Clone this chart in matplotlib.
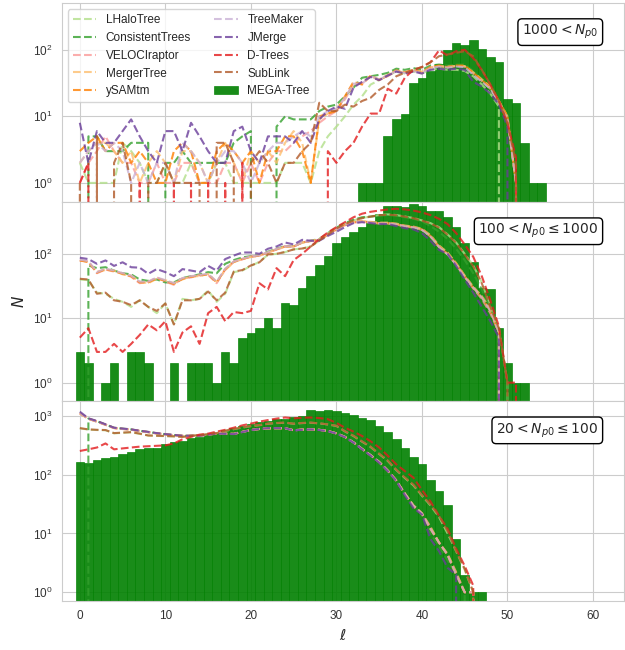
import numpy as np
import matplotlib
matplotlib.use("Agg")
import matplotlib.pyplot as plt
import seaborn as sns

sns.set_style("whitegrid")
plt.rcParams['font.family'] = ['Liberation Sans', 'DejaVu Sans']

names = ["LHaloTree", "ConsistentTrees", "VELOCIraptor", "MergerTree", "ySAMtm",
         "TreeMaker", "JMerge", "D-Trees", "SubLink"]
colours = ["#b2df8a", "#33a02c", "#fb9a99", "#fdbf6f", "#ff7f00",
           "#cab2d6", "#6a3d9a", "#e31a1c", "#b15928"]
panel_labels = [r"$1000 < N_{p0}$", r"$100 < N_{p0} \leq 1000$", r"$20 < N_{p0} \leq 100$"]

# ---- 1000 < Np0 ----
hi_mega = [0] * 33 + [1, 1, 1, 5, 9, 11, 32, 38, 48, 62, 98, 127, 116, 141, 103, 79, 65, 18, 16, 4, 1, 1]
hi_lhalo = [2, 1, 1, 1, 1, 4, 3, 2, 1, 1, 2, 1, 1, 2, 1, 1, 2, 2, 1, 1, 1, 1, 1, 1, 2, 2,
            2, 1, 3, 5, 7, 10, 15, 20, 30, 35, 41, 47, 44, 47, 44, 50, 52, 50, 50, 48, 40, 30, 22, 14, 0]
hi_ctrees = [0, 5, 5, 3, 3, 3, 4, 4, 4, 0, 2, 2, 3, 2, 2, 2, 2, 2, 4, 5, 6, 0,
             0, 7, 10, 9, 9, 9, 12, 14, 15, 20, 27, 38, 40,
             42, 45, 52, 50, 53, 50, 58, 60, 58, 60, 60, 48, 36, 28, 17, 10, 1, 0]
hi_velo = [1, 2, 3, 5, 3, 2, 2, 1, 1, 2, 1, 1, 2, 2, 1, 1, 1, 2, 2, 1, 2, 1,
           2, 3, 3, 4, 5, 6, 8, 10, 12, 18, 30, 31, 40,
           35, 40, 48, 45, 49, 45, 54, 57, 54, 57, 56, 44, 34, 26, 16, 9, 1, 0]
hi_merger = [2, 3, 4, 4, 3, 2, 3, 1, 2, 3, 2, 1, 3, 3, 2, 1, 2, 4, 2, 1, 3, 2,
             3, 2, 4, 6, 4, 1, 9, 11, 13, 19, 30, 32, 40,
             36, 42, 48, 46, 50, 47, 54, 57, 56, 57, 57, 46, 36, 28, 17, 10, 1, 0]
hi_ysam = [3, 4, 5, 3, 4, 4, 2, 3, 2, 1, 1, 3, 4, 3, 1, 1, 3, 4, 3, 2, 3, 1,
           3, 3, 5, 5, 3, 1, 10, 11, 12, 20, 33, 30, 41,
           35, 41, 49, 46, 49, 46, 55, 58, 55, 58, 58, 45, 35, 27, 17, 10, 1, 0]
hi_treemaker = [2, 3, 4, 3, 4, 3, 1, 2, 1, 2, 2, 1, 4, 3, 2, 1, 2, 3, 3, 2, 1, 2,
                3, 4, 4, 5, 6, 5, 10, 12, 13, 19, 31, 31, 40,
                36, 41, 48, 45, 48, 45, 53, 56, 54, 56, 55, 42, 33, 26, 16, 9, 1, 0]
hi_jmerge = [8, 2, 6, 4, 4, 6, 9, 5, 3, 2, 6, 6, 3, 8, 5, 3, 2, 2, 6, 7, 3, 2,
             5, 5, 5, 4, 6, 4, 9, 12, 14, 13, 27, 33, 39,
             35, 41, 47, 44, 47, 44, 50, 52, 50, 52, 50, 33, 28, 22, 15, 7, 0]
hi_dtrees = [1, 2, 0, 0, 0, 0, 0, 1, 0, 0, 0, 1, 0, 1, 0, 1, 0, 1, 0, 2, 0, 0,
             0, 0, 0, 0, 0, 0, 0, 3, 2, 3, 4, 7, 11,
             11, 26, 22, 38, 50, 55, 65, 98, 82, 95, 100, 75, 50, 30, 17, 8, 2.4, 0]
hi_sublink = [1, 0, 5, 0, 2, 4, 1, 0, 1, 1, 2, 1, 1, 1, 1, 0, 4, 4, 2, 0, 2, 3,
              2, 1, 2, 2, 3, 4, 16, 12, 12, 15, 14, 17, 19,
              25, 30, 40, 45, 50, 55, 65, 80, 85, 90, 95, 80, 50, 30, 17, 8, 2, 0]

# ---- 100 < Np0 <= 1000 ----
mid_mega = [3, 2, 0, 1, 2, 0, 3, 3, 2, 0, 0, 2, 0, 2, 2, 2, 1, 3, 2, 5,
            6, 7, 10, 7, 17, 16, 29, 46, 66, 94, 146, 180, 215, 258, 325, 416, 560, 560, 525, 595,
            560, 467, 467, 370, 258, 146, 74, 30, 28, 7, 2, 1, 1]
mid_lhalo = [40, 39, 25, 24, 20, 18, 15, 19, 15, 12, 17, 8, 20, 19, 20, 27, 18, 24, 52, 55,
             65, 75, 97, 100, 106, 118, 120, 130,
             160, 200, 250, 290, 330, 360, 380, 400, 410, 400, 380, 360, 330, 300, 260, 200,
             150, 100, 66, 36, 15, 7, 1, 0]
mid_ctrees = [0, 66, 60, 62, 55, 50, 48, 40, 38, 40, 36, 36, 42, 45, 48, 52, 50, 70, 80, 88,
              92, 96, 108, 120, 132, 132, 150, 160,
              170, 210, 255, 300, 340, 370, 380, 390, 400, 390, 370, 350, 320, 270, 220, 170,
              120, 80, 50, 28, 14, 6.5, 1, 0]
mid_velo = [78, 76, 50, 57, 53, 50, 44, 35, 37, 43, 37, 33, 42, 43, 47, 47, 35, 57, 76, 82,
            91, 93, 106, 116, 131, 129, 151, 157,
            163, 198, 238, 278, 305, 315, 305, 296, 296, 286, 266, 256, 236, 186, 128, 98,
            68, 44, 29, 20, 12, 6, 0]
mid_merger = [80, 74, 53, 56, 55, 48, 46, 37, 35, 41, 39, 35, 40, 45, 45, 49, 37, 56, 74, 84,
              89, 95, 104, 117, 128, 132, 148, 160,
              168, 205, 245, 285, 315, 325, 315, 305, 305, 295, 275, 265, 245, 195, 135, 105,
              72, 46, 31, 22, 14, 6, 0]
mid_ysam = [79, 75, 51, 58, 54, 49, 45, 36, 36, 42, 38, 34, 41, 44, 46, 48, 36, 58, 75, 83,
            90, 94, 105, 118, 130, 130, 150, 158,
            165, 200, 240, 280, 310, 320, 310, 300, 300, 290, 270, 260, 240, 190, 130, 100,
            70, 45, 30, 21, 13, 6, 0]
mid_treemaker = [81, 77, 52, 59, 55, 50, 46, 37, 37, 43, 39, 35, 42, 45, 47, 49, 37, 59, 76, 84,
                 91, 95, 106, 119, 131, 131, 151, 159,
                 166, 200, 240, 280, 308, 318, 308, 298, 298, 288, 268, 258, 236, 186, 128, 98,
                 68, 44, 30, 21, 13, 6, 0]
mid_jmerge = [87, 83, 70, 79, 65, 74, 62, 61, 49, 58, 52, 45, 58, 55, 52, 65, 55, 83, 94, 105,
              105, 100, 120, 130, 150, 140, 165, 160,
              160, 190, 220, 260, 300, 310, 300, 290, 290, 270, 250, 240, 210, 160, 115, 100,
              65, 40, 25, 15, 9, 5, 0]
mid_dtrees = [5, 7, 3, 3, 4, 3, 4, 5.5, 8, 6.5, 9, 3, 6, 7.5, 4, 12, 15, 9, 12.5, 12,
              13, 35, 28, 60, 45, 80, 100, 130,
              170, 215, 260, 310, 370, 420, 450, 470, 490, 500, 490, 470, 440, 400, 350, 290,
              210, 140, 90, 45, 19, 7.5, 1, 1, 0]
mid_sublink = [41, 40, 24, 25, 19, 18, 16, 19, 15, 13, 17, 8, 19, 19, 20, 26, 19, 25, 53, 56,
               66, 74, 98, 100, 107, 117, 121, 130,
               162, 198, 248, 288, 328, 358, 378, 398, 405, 398, 378, 358, 328, 298, 255, 198,
               148, 98, 64, 35, 15, 7, 1, 0]

# ---- 20 < Np0 <= 100 ----
lo_mega = [166, 156, 178, 194, 199, 223, 246, 274, 280, 290, 333, 364, 380, 415, 445, 486, 520,
           570, 620, 670, 730, 795, 830, 875, 890, 950, 1000, 1270, 1210, 1240, 1200, 1140, 1040,
           935, 845, 675, 540, 400, 290, 200, 150, 80, 52, 30, 8, 2, 1, 1]
lo_lhalo = [615, 585, 575, 570, 505, 515, 525, 495, 462, 457, 452, 447, 438, 458, 468, 488, 508,
            555, 595, 635, 670, 695, 735, 755, 765,
            735, 755, 765, 745, 715, 675, 545, 455, 365, 296, 225, 172, 120, 88, 66, 44, 30, 19,
            10, 5, 2.4, 1, 0]
lo_ctrees = [0, 900, 810, 715, 628, 606, 588, 557, 532, 507, 487, 472, 458, 458, 460, 480, 500,
             496, 492, 532, 575, 600, 618, 620, 620,
             568, 582, 591, 578, 552, 502, 438, 352, 272, 212, 162, 117, 79, 47, 29, 22, 10, 6,
             3.5, 2, 1, 0]
lo_velo = [1100, 890, 795, 705, 620, 598, 582, 552, 528, 503, 483, 468, 456, 457, 461, 481, 499,
           497, 494, 534, 574, 598, 614, 617, 617,
           568, 583, 590, 578, 553, 503, 438, 353, 273, 213, 163, 116, 79, 47, 29, 21, 12, 7,
           4.3, 2, 1, 1, 0]
lo_merger = [1110, 895, 800, 708, 622, 600, 584, 554, 529, 504, 484, 469, 457, 458, 462, 482, 500,
             498, 495, 535, 575, 600, 615, 618, 618,
             570, 585, 592, 580, 555, 505, 440, 355, 275, 215, 165, 118, 80, 48, 30, 22, 13, 7,
             4.5, 2.2, 1, 1, 0]
lo_ysam = [1115, 898, 802, 710, 624, 601, 585, 555, 530, 505, 485, 470, 458, 458, 462, 482, 500,
           498, 495, 535, 575, 600, 615, 618, 618,
           570, 585, 592, 580, 555, 505, 440, 355, 275, 215, 165, 118, 80, 48, 30, 22, 12, 7,
           4.3, 2, 1, 1, 0]
lo_treemaker = [1120, 900, 800, 710, 625, 600, 585, 555, 530, 505, 485, 470, 458, 458, 462, 482,
                500, 498, 495, 535, 575, 600, 615, 618, 618,
                570, 585, 592, 580, 555, 505, 440, 355, 275, 215, 165, 118, 80, 48, 30, 22, 12,
                7, 4.3, 2, 1, 1, 0]
lo_jmerge = [1180, 910, 820, 720, 630, 610, 590, 560, 535, 510, 490, 475, 460, 460, 460, 480, 500,
             495, 490, 530, 575, 600, 620, 620, 620,
             565, 580, 590, 575, 550, 500, 435, 350, 270, 210, 160, 115, 78, 45, 27, 21, 8, 5,
             2.6, 2, 0]
lo_dtrees = [253, 270, 290, 340, 270, 280, 290, 300, 305, 310, 315, 340, 400, 440, 480, 500, 540,
             580, 630, 690, 740, 800, 850, 900, 940,
             910, 930, 940, 920, 880, 760, 630, 540, 455, 370, 290, 210, 150, 115, 89, 55, 35,
             20, 12, 5.5, 2.8, 1.3, 0]
lo_sublink = [620, 590, 580, 575, 510, 520, 530, 500, 465, 460, 455, 450, 440, 460, 470, 490, 510,
              560, 600, 640, 675, 700, 740, 760, 770,
              740, 760, 770, 750, 720, 680, 550, 460, 370, 300, 228, 175, 122, 90, 68, 45, 31,
              20, 11, 5, 2.5, 1, 0]

panels = [
    (hi_mega, [hi_lhalo, hi_ctrees, hi_velo, hi_merger, hi_ysam, hi_treemaker, hi_jmerge,
               hi_dtrees, hi_sublink], (0.51, 500), [1, 10, 100]),
    (mid_mega, [mid_lhalo, mid_ctrees, mid_velo, mid_merger, mid_ysam, mid_treemaker, mid_jmerge,
                mid_dtrees, mid_sublink], (0.51, 630), [1, 10, 100]),
    (lo_mega, [lo_lhalo, lo_ctrees, lo_velo, lo_merger, lo_ysam, lo_treemaker, lo_jmerge,
               lo_dtrees, lo_sublink], (0.72, 1760), [1, 10, 100, 1000]),
]

fig, axes = plt.subplots(3, 1, sharex=True, figsize=(6.25, 6.5), dpi=100)
fig.subplots_adjust(left=0.099, right=0.998, top=0.995, bottom=0.076, hspace=0)

for ax, (mega, series, ylim, yticks), text in zip(axes, panels, panel_labels):
    ax.set_yscale("log")
    for vals, name, col in zip(series, names, colours):
        ax.plot(np.arange(len(vals)), vals, "--", color=col, alpha=0.8, lw=1.5, label=name)
    counts = np.array(mega, dtype=float)
    ells = np.arange(len(counts))
    keep = counts > 0
    ax.bar(ells[keep], counts[keep], width=1.0, color="green", alpha=0.9,
           edgecolor="green", linewidth=0.5, label="MEGA-Tree")
    ax.set_ylim(*ylim)
    ax.set_yticks(yticks)
    ax.tick_params(axis="both", labelsize=8.5, colors="#333333")
    ax.text(0.955, 0.855, text, transform=ax.transAxes, ha="right", va="center",
            fontsize=10, family="DejaVu Sans",
            bbox=dict(boxstyle="round", fc="white", ec="black", lw=1))

axes[0].legend(loc="upper left", ncol=2, fontsize=8.5, frameon=True)
axes[2].set_xlim(-2.1, 63.6)
axes[2].set_xticks([0, 10, 20, 30, 40, 50, 60])
axes[2].set_xlabel(r"$\ell$", fontsize=11)
axes[1].set_ylabel(r"$N$", fontsize=11)

fig.savefig("out.png", dpi=100)
